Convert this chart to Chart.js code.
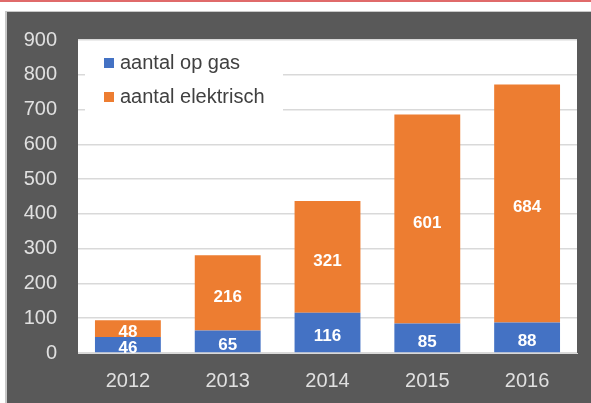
<!DOCTYPE html>
<html>
<head>
<meta charset="utf-8">
<script src="https://cdn.jsdelivr.net/npm/chart.js@4/dist/chart.umd.min.js"></script>
<style>
  html, body { margin: 0; padding: 0; background: #fff; }
  body { width: 591px; height: 403px; position: relative; overflow: hidden; }
  #topline { position: absolute; left: 0; top: 0; width: 591px; height: 2px; background: #e06a6a; }
  #box { position: absolute; left: 5px; top: 11px; width: 586px; height: 392px; background: #c8c8c8; }
  #wrap { position: absolute; left: 7px; top: 12px; width: 584px; height: 391px; background: #595959; }
</style>
</head>
<body>
<div id="topline"></div>
<div id="box"></div>
<div id="wrap"><canvas id="chart" width="584" height="391"></canvas></div>
<script>
var YEARS = ['2012', '2013', '2014', '2015', '2016'];
var GAS = [46, 65, 116, 85, 88];
var ELEKTRISCH = [48, 216, 321, 601, 684];
var LABELS = ['aantal op gas', 'aantal elektrisch'];
var COLORS = ['#4472c4', '#ed7d31'];
var Y_MAX = 900;
var Y_STEP = 100;

var FONT = '"Liberation Sans", Arial, sans-serif';

// white plot area
var plotBg = {
    id: 'plotBg',
    beforeDraw: function(chart) {
        var a = chart.chartArea;
        var ctx = chart.ctx;
        ctx.save();
        ctx.fillStyle = '#ffffff';
        ctx.fillRect(a.left, a.top, a.right - a.left, a.bottom - a.top);
        ctx.restore();
    }
};

// numbers inside bars + legend box inside the plot
var barText = {
    id: 'barText',
    afterDatasetsDraw: function(chart) {
        var ctx = chart.ctx;
        ctx.save();
        ctx.fillStyle = '#ffffff';
        ctx.font = 'bold 17px ' + FONT;
        ctx.textAlign = 'center';
        ctx.textBaseline = 'middle';
        chart.data.datasets.forEach(function(ds, i) {
            var meta = chart.getDatasetMeta(i);
            meta.data.forEach(function(bar, j) {
                var mid = (bar.y + bar.base) / 2;
                ctx.fillText(ds.data[j], bar.x, mid + 4);
            });
        });

        // legend
        var a = chart.chartArea;
        ctx.fillStyle = '#ffffff';
        ctx.fillRect(a.left + 7, a.top + 10, 198, 68);
        ctx.font = '20px ' + FONT;
        ctx.textAlign = 'left';
        chart.data.datasets.forEach(function(ds, i) {
            var y = a.top + 23 + i * 34;
            ctx.fillStyle = ds.backgroundColor;
            ctx.fillRect(a.left + 26, y - 5, 10, 10);
            ctx.fillStyle = '#404040';
            ctx.fillText(ds.label, a.left + 42, y);
        });
        ctx.restore();
    }
};

var chart = new Chart(document.getElementById('chart'), {
    type: 'bar',
    data: {
        labels: YEARS,
        datasets: [
            { label: LABELS[0], data: GAS, backgroundColor: COLORS[0] },
            { label: LABELS[1], data: ELEKTRISCH, backgroundColor: COLORS[1] }
        ]
    },
    options: {
        responsive: false,
        animation: false,
        layout: { padding: { left: 0, right: 14, top: 28, bottom: 0 } },
        datasets: { bar: { barPercentage: 0.66, categoryPercentage: 1 } },
        plugins: {
            legend: { display: false },
            tooltip: { enabled: false }
        },
        scales: {
            x: {
                stacked: true,
                grid: { display: false, drawTicks: false },
                border: { display: true, color: '#d9d9d9', width: 1 },
                ticks: { color: '#e0e0e0', font: { family: FONT, size: 20 }, padding: 16 },
                afterFit: function(s) { s.height = 50; s.paddingLeft = 0; s.paddingRight = 0; }
            },
            y: {
                stacked: true,
                min: 0,
                max: Y_MAX,
                grid: { color: '#d9d9d9', lineWidth: 1.5, drawTicks: false },
                border: { display: false },
                ticks: { stepSize: Y_STEP, color: '#e0e0e0', font: { family: FONT, size: 20 }, padding: 21 },
                afterFit: function(s) { s.width = 71; s.paddingTop = 0; s.paddingBottom = 0; }
            }
        }
    },
    plugins: [plotBg, barText]
});
</script>
</body>
</html>
